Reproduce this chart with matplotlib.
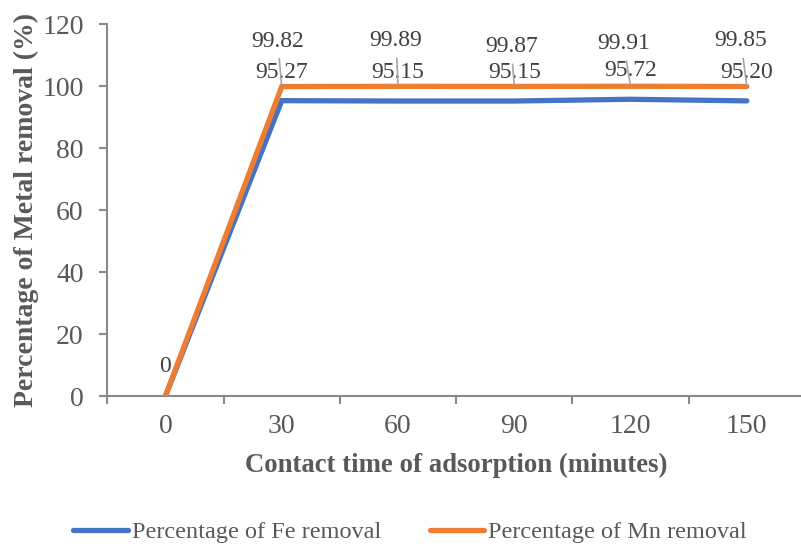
import matplotlib.pyplot as plt
from matplotlib.ticker import FixedLocator

plt.rcParams['font.family'] = ['Liberation Serif', 'DejaVu Serif']

times = ['0', '30', '60', '90', '120', '150']
fe_removal = [0, 95.27, 95.15, 95.15, 95.72, 95.20]
mn_removal = [0, 99.82, 99.89, 99.87, 99.91, 99.85]

# label offsets in pixels (dx, dy to baseline)
mn_offsets = [(0, 24), (-4, 40), (-2, 40), (-3, 34), (-7, 37), (-6, 40)]
fe_offsets = [(0, 24), (0, 23), (0, 23), (0, 23), (0, 23), (0, 23)]

blue = '#4472C4'
orange = '#ED7D31'
grey = '#898989'
text_col = '#595959'

fig = plt.figure(figsize=(8.01, 5.44), dpi=100)
ax = fig.add_axes([107.3 / 801, 1 - 396 / 544, 697.7 / 801, 372 / 544])

x = list(range(len(times)))
ax.plot(x, fe_removal, color=blue, lw=3.8, solid_capstyle='round',
        solid_joinstyle='miter', label='Percentage of Fe removal', zorder=3)
ax.plot(x, mn_removal, color=orange, lw=3.8, solid_capstyle='round',
        solid_joinstyle='miter', label='Percentage of Mn removal', zorder=3)

ax.set_xlim(-0.5, len(times) - 0.5)
ax.set_ylim(0, 120)
ax.set_yticks(range(0, 121, 20))
ax.set_xticks(x)
ax.set_xticklabels(times)
ax.xaxis.set_minor_locator(FixedLocator([i - 0.5 for i in range(len(times) + 1)]))

for s in ['top', 'right']:
    ax.spines[s].set_visible(False)
for s in ['left', 'bottom']:
    ax.spines[s].set_color(grey)
    ax.spines[s].set_linewidth(1.5)

ax.tick_params(axis='x', which='major', length=0, pad=13, labelsize=20, labelcolor=text_col)
ax.tick_params(axis='x', which='minor', length=6, width=1.5, color=grey, direction='out')
ax.tick_params(axis='y', length=6, width=1.5, color=grey, pad=11, labelsize=20, labelcolor=text_col)

ax.set_xlabel('Contact time of adsorption (minutes)', fontsize=19.3, fontweight='bold',
              color=text_col, labelpad=10)
ax.set_ylabel('Percentage of Metal removal (%)', fontsize=20, fontweight='bold',
              color=text_col, labelpad=2)

for i in x:
    if i == 0:
        ax.annotate('0', xy=(i, fe_removal[i]), xytext=fe_offsets[i],
                    textcoords='offset pixels', ha='center', va='baseline',
                    fontsize=17, color='#404040')
        continue
    ax.annotate(f'{fe_removal[i]:.2f}', xy=(i, fe_removal[i]), xytext=fe_offsets[i],
                textcoords='offset pixels', ha='center', va='baseline',
                fontsize=17, color='#404040', zorder=4)
    ax.annotate(f'{mn_removal[i]:.2f}', xy=(i, mn_removal[i]), xytext=mn_offsets[i],
                textcoords='offset pixels', ha='center', va='baseline',
                fontsize=17, color='#404040', zorder=4,
                arrowprops=dict(arrowstyle='-', color='#A6A6A6', lw=1.2,
                                shrinkA=3, shrinkB=1.5))

fig.legend(loc='center', bbox_to_anchor=(410 / 801, 1 - 532 / 544), ncol=2, frameon=False,
           fontsize=17.5, handlelength=2.25, handletextpad=0.15, columnspacing=2.0,
           labelcolor=text_col, borderpad=0)

fig.savefig('out.png', dpi=100)
